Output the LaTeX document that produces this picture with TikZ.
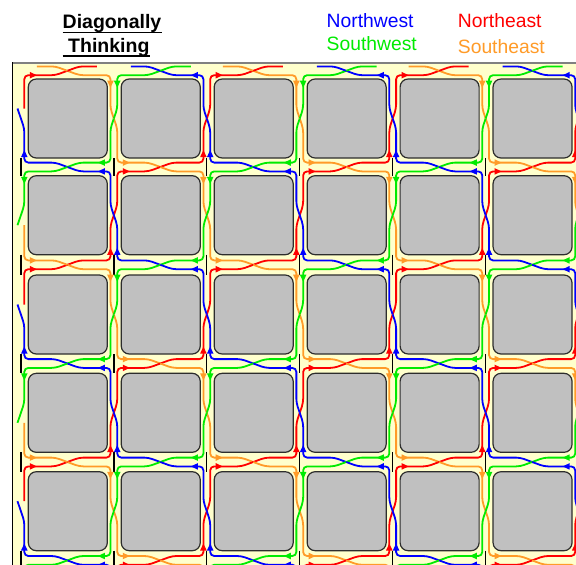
\documentclass[tikz,border=0pt]{standalone}
\usepackage{fontspec}
\setmainfont{Liberation Sans}
\definecolor{cB}{RGB}{0,0,255}
\definecolor{cR}{RGB}{255,0,0}
\definecolor{cG}{RGB}{0,235,0}
\definecolor{cO}{RGB}{255,155,40}
\definecolor{bgY}{RGB}{255,255,204}
\definecolor{blkF}{RGB}{192,192,192}
\definecolor{blkL}{RGB}{45,45,45}
\tikzset{
 ln/.style={line width=1.8pt, rounded corners=4pt},
 blockbox/.style={fill=blkF, draw=blkL, line width=1.2pt, rounded corners=8pt},
 tickmark/.style={draw=black, line width=1.3pt},
 legend/.style={anchor=base west, inner sep=0pt, font=\fontsize{19.3}{23}\selectfont},
 titletext/.style={anchor=base west, inner sep=0pt, font=\bfseries\fontsize{19.5}{23}\selectfont},
}
\newcommand\arr[4]{\fill[#1,shift={(#2,#3)},rotate=#4] (5.5,-3.3) -- (12.5,0) -- (5.5,3.3) -- cycle;}
\newcommand\setpt[2]{%
 \pgfmathsetmacro\X{20.9+92.95*#1}%
 \pgfmathsetmacro\Y{{70.8,167,264.8,363.5,462,560.4}[#2]}%
 \pgfmathsetmacro\mN{{-30,79,175.7,275,373.3,471.7,570}[#2]+39.5}%
 \pgfmathsetmacro\mS{{-30,79,175.7,275,373.3,471.7,570}[#2+1]+39.5}%
 \pgfmathsetmacro\mW{\X-46.475}\pgfmathsetmacro\mE{\X+46.475}%
 \pgfmathsetmacro\xW{\X-3.4}\pgfmathsetmacro\xE{\X+3.4}%
 \pgfmathsetmacro\yN{\Y-4.4}\pgfmathsetmacro\yS{\Y+4.4}%
 \pgfmathsetmacro\nA{\mN+10}\pgfmathsetmacro\nB{\mN-10}%
 \pgfmathsetmacro\sA{\mS-10}\pgfmathsetmacro\sB{\mS+10}%
 \pgfmathsetmacro\wA{\mW+12}\pgfmathsetmacro\eA{\mE-12}%
}
% type A pieces (vertical in, horizontal out)
\newcommand\pcAO{\draw[ln,cO] (\X,\mN) -- (\xE,\nA) -- (\xE,\yN) -- (\eA,\yN) -- (\mE,\Y); \arr{cO}{\xE}{\yN}{0}}
\newcommand\pcAG{\draw[ln,cG] (\X,\mN) -- (\xW,\nA) -- (\xW,\yN) -- (\wA,\yN) -- (\mW,\Y); \arr{cG}{\xW}{\yN}{180}}
\newcommand\pcAR{\draw[ln,cR] (\X,\mS) -- (\xE,\sA) -- (\xE,\yS) -- (\eA,\yS) -- (\mE,\Y); \arr{cR}{\xE}{\yS}{0}}
\newcommand\pcAB{\draw[ln,cB] (\X,\mS) -- (\xW,\sA) -- (\xW,\yS) -- (\wA,\yS) -- (\mW,\Y); \arr{cB}{\xW}{\yS}{180}}
% type B pieces (horizontal in, vertical out)
\newcommand\pcBR{\draw[ln,cR] (\mW,\Y) -- (\wA,\yN) -- (\xW,\yN) -- (\xW,\nA) -- (\X,\mN); \arr{cR}{\xW}{\yN}{90}}
\newcommand\pcBO{\draw[ln,cO] (\mW,\Y) -- (\wA,\yS) -- (\xW,\yS) -- (\xW,\sA) -- (\X,\mS); \arr{cO}{\xW}{\yS}{270}}
\newcommand\pcBB{\draw[ln,cB] (\mE,\Y) -- (\eA,\yN) -- (\xE,\yN) -- (\xE,\nA) -- (\X,\mN); \arr{cB}{\xE}{\yN}{90}}
\newcommand\pcBG{\draw[ln,cG] (\mE,\Y) -- (\eA,\yS) -- (\xE,\yS) -- (\xE,\sA) -- (\X,\mS); \arr{cG}{\xE}{\yS}{270}}
\begin{document}
\begin{tikzpicture}[x=1pt,y=-1pt]
\useasboundingbox (0,0) rectangle (576,565);
\fill[white] (0,0) rectangle (576,565);
\fill[bgY] (12,63) rectangle (576,565);
% ticks at intersections
\foreach \v in {0,...,6}{\foreach \h in {1,...,5}{
  \pgfmathsetmacro\X{20.9+92.95*\v}
  \pgfmathsetmacro\ta{{79,175.7,275,373.3,471.7,570}[\h-1]+79}
  \pgfmathsetmacro\tb{{79,175.7,275,373.3,471.7,570}[\h]}
  \draw[tickmark] (\X,\ta) -- (\X,\tb);
}}
% blocks
\foreach \i in {1,...,6}{\foreach \j in {1,...,5}{
  \pgfmathsetmacro\bl{28.3+92.95*(\i-1)}
  \pgfmathsetmacro\bt{{79,175.7,275,373.3,471.7}[\j-1]}
  \draw[blockbox] (\bl,\bt) rectangle ++(79,79);
}}
\begin{scope}
\clip (12,63) rectangle (576,565);
% interior intersections
\foreach \v in {1,...,6}{\foreach \h in {1,...,5}{
  \setpt{\v}{\h}
  \ifodd\numexpr\v+\h\relax \pcBR\pcBO\pcBB\pcBG \else \pcAO\pcAG\pcAR\pcAB \fi
}}
% top street
\foreach \v in {1,...,6}{
  \setpt{\v}{0}
  \ifodd\v
    \pcBO\pcBG
    \pgfmathsetmacro\tx{\X-17}\draw[ln,cR] (\mW,\Y) -- (\wA,\yN) -- (\tx,\yN);
    \pgfmathsetmacro\tx{\X+17}\draw[ln,cB] (\mE,\Y) -- (\eA,\yN) -- (\tx,\yN);
  \else
    \pcAR\pcAB
    \pgfmathsetmacro\tx{\X+16}\draw[ln,cO] (\tx,\yN) -- (\eA,\yN) -- (\mE,\Y);
    \pgfmathsetmacro\tx{\X-16}\draw[ln,cG] (\tx,\yN) -- (\wA,\yN) -- (\mW,\Y);
  \fi
}
% left street
\foreach \h in {1,...,5}{
  \setpt{0}{\h}
  \ifodd\h
    \draw[ln,cB] (\mE,\Y) -- (\eA,\yN) -- (\xE,\yN) -- (\xE,\nA) -- (\X,\mN) -- (\xW,\nB); \arr{cB}{\xE}{\yN}{90}
    \draw[ln,cG] (\mE,\Y) -- (\eA,\yS) -- (\xE,\yS) -- (\xE,\sA) -- (\X,\mS) -- (\xW,\sB); \arr{cG}{\xE}{\yS}{270}
  \else
    \draw[ln,cR] (\xE,\sA) -- (\xE,\yS) -- (\eA,\yS) -- (\mE,\Y); \arr{cR}{\xE}{\yS}{0}
    \draw[ln,cO] (\xE,\nA) -- (\xE,\yN) -- (\eA,\yN) -- (\mE,\Y); \arr{cO}{\xE}{\yN}{0}
  \fi
}
% top-left corner
\setpt{0}{0}
\draw[ln,cR] (\xE,\sA) -- (\xE,\yS) -- (\eA,\yS) -- (\mE,\Y); \arr{cR}{\xE}{\yS}{0}
\pgfmathsetmacro\tx{\X+16}\draw[ln,cO] (\tx,\yN) -- (\eA,\yN) -- (\mE,\Y);
\end{scope}
% frame
\draw[gray, line width=2pt] (12,63) -- (576,63);
\draw[black, line width=1pt] (12,62) -- (12,565);
% texts
\node[titletext] (t1) at (62.5,28.7) {Diagonally};
\draw[line width=1.5pt] ([yshift=-3.7pt]t1.base west) -- ([yshift=-3.7pt]t1.base east);
\node[titletext] (t2) at (68,52.3) {Thinking};
\coordinate (u2) at (62.5,56);
\draw[line width=1.5pt] (u2) -- (u2 -| t2.base east);
\node[legend, text=cB] (nw) at (326.5,27.3) {Northwest};
\node[legend, text=cR] (ne) at (457.7,27.3) {Northeast};
\node[legend, text=cG] (sw) at (326.5,50.8) {Southwest};
\node[legend, text=cO] (se) at (457.7,53.8) {Southeast};
\end{tikzpicture}
\end{document}
